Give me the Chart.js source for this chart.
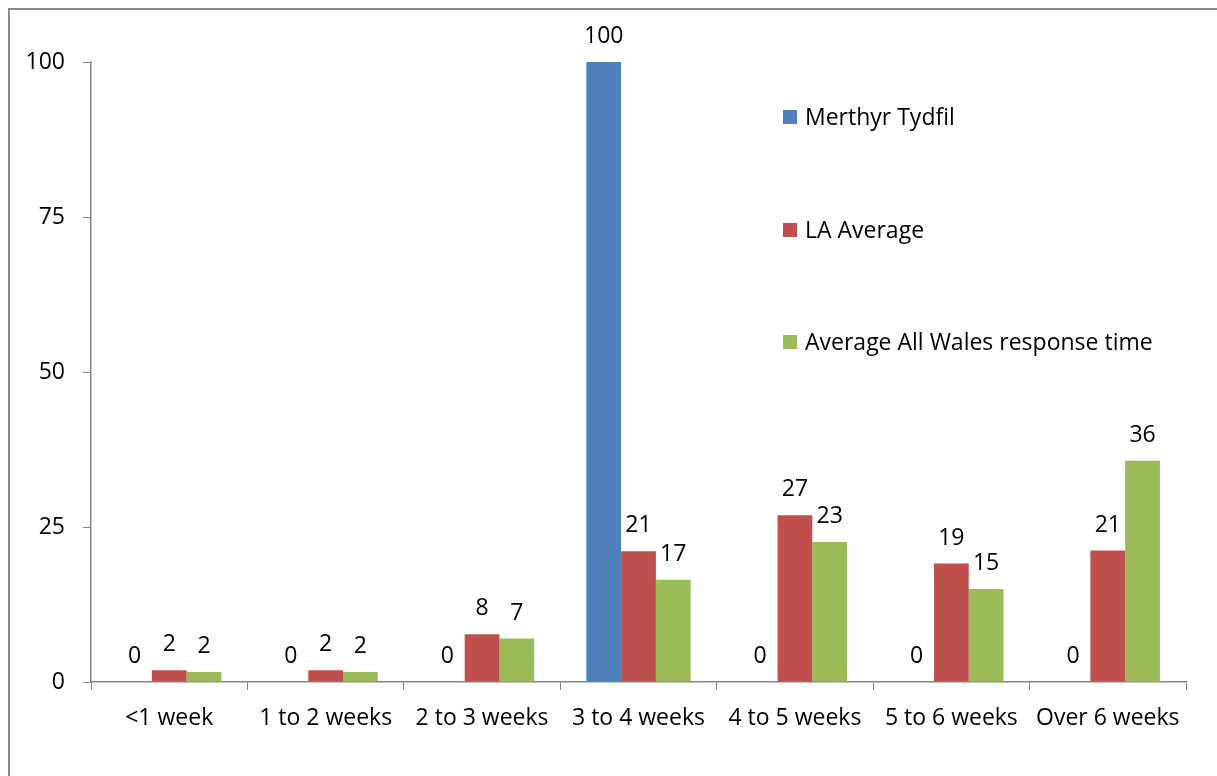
<!DOCTYPE html>
<html>
<head>
<meta charset="utf-8">
<script src="https://cdn.jsdelivr.net/npm/chart.js@4/dist/chart.umd.min.js"></script>
<style>
  html, body { margin: 0; padding: 0; background: #fff; }
  #wrap { position: relative; width: 1217px; height: 776px; overflow: hidden; }
  #frame { position: absolute; left: 8px; top: 8px; width: 1300px; height: 900px; border-left: 2px solid #8a8a8a; border-top: 2px solid #8a8a8a; box-sizing: border-box; }
  canvas { position: absolute; left: 0; top: 0; }
</style>
</head>
<body>
<div id="wrap">
  <div id="frame"></div>
  <canvas id="c" width="1217" height="776"></canvas>
</div>
<script>
const categories = ['<1 week', '1 to 2 weeks', '2 to 3 weeks', '3 to 4 weeks', '4 to 5 weeks', '5 to 6 weeks', 'Over 6 weeks'];
const seriesNames = ['Merthyr Tydfil', 'LA Average', 'Average All Wales response time'];
const merthyr = [0, 0, 0, 100, 0, 0, 0];
const laAverage = [1.9, 1.9, 7.7, 21.1, 26.9, 19.1, 21.2];
const allWales = [1.6, 1.6, 7.0, 16.5, 22.6, 15.0, 35.7];
const yTicks = [0, 25, 50, 75, 100];

const colors = ['#4f81bd', '#c0504d', '#9bbb59'];
const FONT = '"Open Sans", Lato, sans-serif';
const FSIZE = 23;

const labelPlugin = {
  id: 'valueLabels',
  afterDatasetsDraw(chart) {
    const ctx = chart.ctx;
    ctx.save();
    ctx.font = FSIZE + 'px ' + FONT;
    ctx.fillStyle = '#000';
    ctx.textAlign = 'center';
    ctx.textBaseline = 'alphabetic';
    chart.data.datasets.forEach((ds, i) => {
      const meta = chart.getDatasetMeta(i);
      meta.data.forEach((bar, j) => {
        const txt = String(Math.round(ds.data[j]));
        ctx.fillText(txt, bar.x, bar.y - 19);
      });
    });
    ctx.restore();
  }
};

const legendPlugin = {
  id: 'customLegend',
  afterDraw(chart) {
    const ctx = chart.ctx;
    ctx.save();
    ctx.font = FSIZE + 'px ' + FONT;
    ctx.textBaseline = 'middle';
    ctx.textAlign = 'left';
    const x0 = 783, ys = [117, 230, 342];
    seriesNames.forEach((n, i) => {
      ctx.fillStyle = colors[i];
      ctx.fillRect(x0, ys[i] - 7, 14, 14);
      ctx.fillStyle = '#000';
      ctx.fillText(n, x0 + 22, ys[i] + 1);
    });
    ctx.restore();
  }
};

new Chart(document.getElementById('c'), {
  type: 'bar',
  data: {
    labels: categories,
    datasets: [
      { label: seriesNames[0], data: merthyr, backgroundColor: colors[0] },
      { label: seriesNames[1], data: laAverage, backgroundColor: colors[1] },
      { label: seriesNames[2], data: allWales, backgroundColor: colors[2] }
    ]
  },
  options: {
    responsive: false,
    animation: false,
    devicePixelRatio: 1,
    layout: { padding: { left: 0, right: 31, top: 62, bottom: 0 } },
    datasets: { bar: { categoryPercentage: 0.6667, barPercentage: 1.0 } },
    plugins: { legend: { display: false }, tooltip: { enabled: false } },
    scales: {
      x: {
        grid: { offset: true, drawOnChartArea: false, drawTicks: true, tickLength: 8, color: '#868686' },
        border: { color: '#868686', width: 1.5 },
        ticks: { color: '#000', font: { family: FONT, size: FSIZE }, padding: 15, maxRotation: 0, autoSkip: false },
        afterFit(scale) { scale.height = 776 - 682; }
      },
      y: {
        min: 0, max: 100,
        afterBuildTicks(scale) { scale.ticks = yTicks.map(v => ({ value: v })); },
        grid: { drawOnChartArea: false, drawTicks: true, tickLength: 8, color: '#868686' },
        border: { color: '#868686', width: 1.5 },
        ticks: { color: '#000', font: { family: FONT, size: FSIZE }, padding: 18 },
        afterFit(scale) { scale.width = 91; }
      }
    }
  },
  plugins: [labelPlugin, legendPlugin]
});
</script>
</body>
</html>
